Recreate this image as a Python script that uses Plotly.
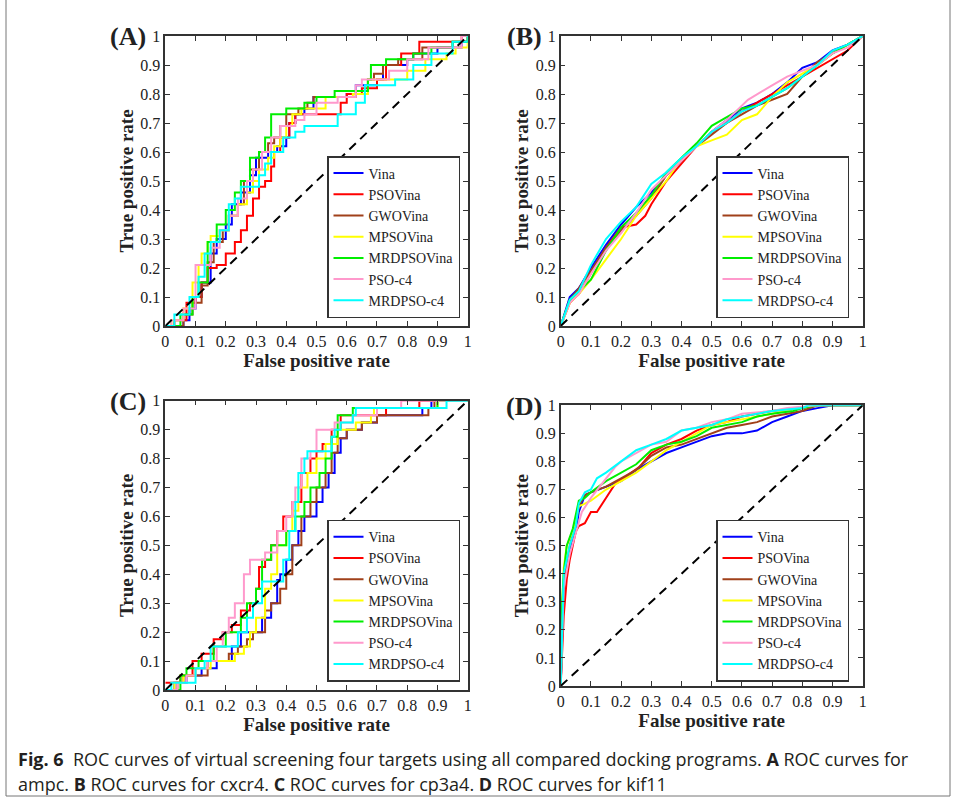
import plotly.graph_objects as go

W, H = 956, 803

methods = ['Vina', 'PSOVina', 'GWOVina', 'MPSOVina', 'MRDPSOVina', 'PSO-c4', 'MRDPSO-c4']
colors = ['#0000ff', '#ff0000', '#a0401a', '#ffff00', '#00ee00', '#ff99cc', '#00ffff']
ticks = [0, 0.1, 0.2, 0.3, 0.4, 0.5, 0.6, 0.7, 0.8, 0.9, 1]
tick_text = ['0', '0.1', '0.2', '0.3', '0.4', '0.5', '0.6', '0.7', '0.8', '0.9', '1']

# ---- (A) ampc : (fpr, tpr) pairs
ampc_vina = [(0, 0), (0.05, 0), (0.06, 0.02), (0.08, 0.06), (0.1, 0.1), (0.12, 0.15), (0.15, 0.25), (0.17, 0.3),
             (0.2, 0.35), (0.22, 0.42), (0.25, 0.46), (0.28, 0.52), (0.3, 0.58), (0.34, 0.6), (0.37, 0.62),
             (0.4, 0.65), (0.41, 0.7), (0.43, 0.73), (0.46, 0.75), (0.49, 0.79), (0.55, 0.79), (0.6, 0.8),
             (0.63, 0.83), (0.7, 0.85), (0.72, 0.9), (0.8, 0.92), (0.82, 0.94), (0.9, 0.96), (0.98, 0.98), (1, 1)]
ampc_psovina = [(0, 0), (0.03, 0.02), (0.07, 0.08), (0.1, 0.1), (0.12, 0.15), (0.14, 0.2), (0.17, 0.21),
                (0.2, 0.25), (0.23, 0.29), (0.25, 0.33), (0.27, 0.38), (0.29, 0.44), (0.31, 0.48), (0.33, 0.5),
                (0.35, 0.55), (0.36, 0.6), (0.38, 0.65), (0.41, 0.7), (0.43, 0.73), (0.56, 0.73), (0.58, 0.77),
                (0.6, 0.8), (0.65, 0.82), (0.7, 0.85), (0.73, 0.9), (0.78, 0.94), (0.84, 0.98), (0.98, 1), (1, 1)]
ampc_gwovina = [(0, 0), (0.04, 0), (0.06, 0.04), (0.09, 0.08), (0.12, 0.14), (0.14, 0.22), (0.16, 0.29),
                (0.19, 0.33), (0.21, 0.38), (0.24, 0.42), (0.26, 0.5), (0.28, 0.54), (0.31, 0.6), (0.34, 0.63),
                (0.36, 0.65), (0.38, 0.69), (0.4, 0.73), (0.44, 0.75), (0.47, 0.77), (0.49, 0.79), (0.54, 0.79),
                (0.61, 0.79), (0.63, 0.81), (0.67, 0.85), (0.69, 0.87), (0.72, 0.9), (0.77, 0.92), (0.85, 0.96),
                (0.95, 0.98), (1, 1)]
ampc_mpsovina = [(0, 0), (0.02, 0.02), (0.06, 0.06), (0.09, 0.15), (0.11, 0.21), (0.12, 0.25), (0.14, 0.29),
                 (0.15, 0.31), (0.18, 0.33), (0.21, 0.38), (0.24, 0.42), (0.27, 0.46), (0.29, 0.5), (0.31, 0.54),
                 (0.34, 0.58), (0.36, 0.62), (0.38, 0.65), (0.4, 0.69), (0.42, 0.73), (0.45, 0.75), (0.5, 0.75),
                 (0.53, 0.79), (0.62, 0.8), (0.67, 0.85), (0.77, 0.85), (0.8, 0.88), (0.86, 0.92), (0.93, 0.94),
                 (0.96, 0.96), (1, 1)]
ampc_mrdpsovina = [(0, 0), (0.03, 0), (0.05, 0.04), (0.09, 0.1), (0.11, 0.15), (0.14, 0.29), (0.17, 0.35),
                   (0.2, 0.4), (0.23, 0.46), (0.25, 0.5), (0.28, 0.58), (0.31, 0.6), (0.33, 0.65), (0.35, 0.73),
                   (0.4, 0.75), (0.46, 0.77), (0.5, 0.79), (0.56, 0.81), (0.67, 0.85), (0.68, 0.9), (0.73, 0.92),
                   (0.82, 0.94), (0.88, 0.96), (0.95, 0.98), (1, 1)]
ampc_psoc4 = [(0, 0), (0.02, 0.02), (0.06, 0.06), (0.1, 0.21), (0.13, 0.21), (0.15, 0.27), (0.18, 0.33),
              (0.21, 0.38), (0.24, 0.44), (0.27, 0.5), (0.29, 0.54), (0.32, 0.6), (0.35, 0.65), (0.38, 0.69),
              (0.43, 0.71), (0.46, 0.73), (0.5, 0.77), (0.57, 0.79), (0.63, 0.83), (0.65, 0.85), (0.7, 0.85),
              (0.74, 0.88), (0.8, 0.92), (0.87, 0.96), (0.92, 0.96), (0.98, 1), (1, 1)]
ampc_mrdpsoc4 = [(0, 0), (0.03, 0.04), (0.05, 0.04), (0.08, 0.1), (0.11, 0.17), (0.13, 0.25), (0.15, 0.29),
                 (0.18, 0.33), (0.21, 0.42), (0.23, 0.44), (0.25, 0.48), (0.29, 0.48), (0.31, 0.52), (0.33, 0.56),
                 (0.35, 0.6), (0.39, 0.65), (0.43, 0.67), (0.46, 0.69), (0.55, 0.69), (0.57, 0.73), (0.63, 0.77),
                 (0.66, 0.83), (0.76, 0.85), (0.82, 0.9), (0.88, 0.94), (0.95, 0.98), (1, 1)]

# ---- (B) cxcr4
cxcr4_vina = [(0, 0), (0.03, 0.1), (0.06, 0.13), (0.1, 0.2), (0.15, 0.28), (0.2, 0.35), (0.25, 0.41), (0.3, 0.46),
              (0.35, 0.52), (0.4, 0.57), (0.45, 0.62), (0.5, 0.67), (0.55, 0.71), (0.6, 0.75), (0.65, 0.77),
              (0.7, 0.8), (0.75, 0.84), (0.8, 0.89), (0.85, 0.91), (0.9, 0.95), (0.95, 0.97), (1, 1)]
cxcr4_psovina = [(0, 0), (0.03, 0.08), (0.06, 0.11), (0.1, 0.18), (0.15, 0.27), (0.2, 0.34), (0.25, 0.35),
                 (0.28, 0.38), (0.3, 0.42), (0.35, 0.5), (0.4, 0.56), (0.45, 0.62), (0.5, 0.67), (0.55, 0.7),
                 (0.6, 0.74), (0.65, 0.77), (0.7, 0.8), (0.75, 0.83), (0.8, 0.86), (0.85, 0.89), (0.9, 0.92),
                 (0.95, 0.95), (1, 1)]
cxcr4_gwovina = [(0, 0), (0.03, 0.09), (0.06, 0.13), (0.1, 0.19), (0.15, 0.27), (0.2, 0.33), (0.25, 0.38),
                 (0.3, 0.44), (0.35, 0.52), (0.4, 0.57), (0.45, 0.62), (0.5, 0.66), (0.55, 0.7), (0.6, 0.73),
                 (0.65, 0.76), (0.7, 0.78), (0.75, 0.8), (0.8, 0.86), (0.85, 0.91), (0.9, 0.94), (0.95, 0.97), (1, 1)]
cxcr4_mpsovina = [(0, 0), (0.03, 0.08), (0.06, 0.11), (0.1, 0.16), (0.15, 0.23), (0.2, 0.3), (0.25, 0.38),
                  (0.3, 0.44), (0.35, 0.5), (0.4, 0.58), (0.45, 0.62), (0.5, 0.64), (0.55, 0.66), (0.6, 0.71),
                  (0.65, 0.73), (0.7, 0.79), (0.75, 0.84), (0.8, 0.87), (0.85, 0.9), (0.9, 0.94), (0.95, 0.97), (1, 1)]
cxcr4_mrdpsovina = [(0, 0), (0.03, 0.09), (0.06, 0.12), (0.1, 0.16), (0.15, 0.26), (0.2, 0.34), (0.25, 0.39),
                    (0.3, 0.45), (0.35, 0.53), (0.4, 0.58), (0.45, 0.63), (0.5, 0.69), (0.55, 0.72), (0.6, 0.75),
                    (0.65, 0.76), (0.7, 0.79), (0.75, 0.82), (0.8, 0.86), (0.85, 0.9), (0.9, 0.94), (0.95, 0.97),
                    (1, 1)]
cxcr4_psoc4 = [(0, 0), (0.03, 0.08), (0.06, 0.11), (0.1, 0.18), (0.15, 0.26), (0.2, 0.32), (0.25, 0.39),
               (0.3, 0.47), (0.35, 0.52), (0.4, 0.57), (0.45, 0.62), (0.5, 0.67), (0.55, 0.71), (0.62, 0.78),
               (0.7, 0.83), (0.75, 0.86), (0.8, 0.88), (0.85, 0.9), (0.9, 0.94), (0.95, 0.96), (1, 1)]
cxcr4_mrdpsoc4 = [(0, 0), (0.03, 0.09), (0.06, 0.12), (0.1, 0.21), (0.15, 0.3), (0.2, 0.36), (0.25, 0.41),
                  (0.3, 0.49), (0.35, 0.53), (0.4, 0.58), (0.45, 0.62), (0.5, 0.67), (0.55, 0.7), (0.6, 0.74),
                  (0.65, 0.76), (0.7, 0.79), (0.75, 0.82), (0.8, 0.86), (0.85, 0.9), (0.9, 0.95), (0.95, 0.97), (1, 1)]

# ---- (C) cp3a4
cp3a4_vina = [(0, 0), (0.03, 0), (0.03, 0.025), (0.07, 0.05), (0.12, 0.075), (0.17, 0.1), (0.22, 0.15),
              (0.25, 0.2), (0.3, 0.2), (0.32, 0.25), (0.35, 0.3), (0.37, 0.38), (0.38, 0.4), (0.4, 0.45),
              (0.42, 0.5), (0.44, 0.55), (0.46, 0.6), (0.5, 0.65), (0.52, 0.7), (0.54, 0.75), (0.56, 0.82),
              (0.58, 0.87), (0.6, 0.9), (0.65, 0.925), (0.7, 0.95), (0.85, 0.975), (0.88, 1), (1, 1)]
cp3a4_psovina = [(0, 0.025), (0.02, 0.025), (0.05, 0.05), (0.09, 0.1), (0.12, 0.125), (0.16, 0.175),
                 (0.19, 0.2), (0.22, 0.225), (0.25, 0.275), (0.28, 0.3), (0.3, 0.35), (0.31, 0.425), (0.33, 0.45),
                 (0.35, 0.5), (0.37, 0.55), (0.39, 0.6), (0.42, 0.65), (0.45, 0.75), (0.48, 0.8), (0.5, 0.825),
                 (0.52, 0.85), (0.55, 0.9), (0.58, 0.95), (0.73, 0.975), (0.84, 1), (1, 1)]
cp3a4_gwovina = [(0, 0), (0.04, 0.025), (0.06, 0.05), (0.12, 0.05), (0.14, 0.1), (0.21, 0.125), (0.24, 0.15),
                 (0.27, 0.175), (0.29, 0.2), (0.33, 0.275), (0.35, 0.3), (0.38, 0.35), (0.4, 0.4), (0.42, 0.5),
                 (0.45, 0.6), (0.48, 0.65), (0.5, 0.7), (0.53, 0.75), (0.55, 0.82), (0.57, 0.87), (0.6, 0.9),
                 (0.65, 0.925), (0.7, 0.95), (0.87, 0.975), (0.89, 1), (1, 1)]
cp3a4_mpsovina = [(0, 0), (0.03, 0.025), (0.06, 0.05), (0.1, 0.075), (0.15, 0.1), (0.23, 0.125), (0.26, 0.15),
                  (0.28, 0.2), (0.3, 0.25), (0.33, 0.35), (0.35, 0.4), (0.37, 0.5), (0.4, 0.55), (0.42, 0.62),
                  (0.44, 0.7), (0.47, 0.75), (0.5, 0.8), (0.53, 0.85), (0.57, 0.9), (0.63, 0.925), (0.68, 0.95),
                  (0.69, 0.975), (0.88, 0.975), (0.9, 1), (1, 1)]
cp3a4_mrdpsovina = [(0, 0), (0.05, 0.05), (0.07, 0.075), (0.11, 0.1), (0.16, 0.15), (0.2, 0.2), (0.25, 0.25),
                    (0.27, 0.3), (0.3, 0.35), (0.32, 0.45), (0.35, 0.5), (0.38, 0.5), (0.4, 0.55), (0.43, 0.6),
                    (0.46, 0.65), (0.48, 0.7), (0.51, 0.75), (0.53, 0.8), (0.55, 0.875), (0.57, 0.95),
                    (0.62, 0.975), (0.9, 1), (1, 1)]
cp3a4_psoc4 = [(0, 0), (0.04, 0.025), (0.07, 0.05), (0.1, 0.075), (0.14, 0.1), (0.17, 0.15), (0.19, 0.2),
               (0.21, 0.25), (0.23, 0.3), (0.26, 0.4), (0.28, 0.45), (0.33, 0.475), (0.37, 0.55), (0.4, 0.6),
               (0.42, 0.65), (0.43, 0.7), (0.45, 0.8), (0.48, 0.825), (0.5, 0.9), (0.56, 0.925), (0.62, 0.95),
               (0.7, 0.975), (0.78, 1), (1, 1)]
cp3a4_mrdpsoc4 = [(0, 0), (0.02, 0.025), (0.08, 0.025), (0.1, 0.075), (0.13, 0.1), (0.15, 0.15), (0.2, 0.15),
                  (0.24, 0.2), (0.27, 0.25), (0.29, 0.3), (0.32, 0.375), (0.37, 0.375), (0.39, 0.45), (0.41, 0.55),
                  (0.43, 0.65), (0.44, 0.75), (0.46, 0.8), (0.47, 0.825), (0.53, 0.825), (0.55, 0.875),
                  (0.56, 0.9), (0.58, 0.925), (0.62, 0.95), (0.63, 0.975), (0.93, 0.975), (0.93, 1), (1, 1)]

# ---- (D) kif11
kif11_vina = [(0, 0), (0.005, 0.15), (0.01, 0.35), (0.02, 0.45), (0.04, 0.52), (0.05, 0.55), (0.06, 0.62),
              (0.08, 0.68), (0.1, 0.69), (0.15, 0.71), (0.2, 0.73), (0.25, 0.77), (0.3, 0.8), (0.35, 0.83),
              (0.4, 0.85), (0.45, 0.87), (0.5, 0.89), (0.55, 0.9), (0.6, 0.9), (0.65, 0.91), (0.7, 0.94),
              (0.75, 0.96), (0.8, 0.98), (0.85, 0.99), (0.9, 1), (1, 1)]
kif11_psovina = [(0, 0), (0.005, 0.12), (0.01, 0.25), (0.02, 0.38), (0.03, 0.45), (0.04, 0.5), (0.05, 0.55),
                 (0.06, 0.57), (0.08, 0.58), (0.1, 0.62), (0.12, 0.62), (0.15, 0.67), (0.18, 0.72), (0.22, 0.75),
                 (0.26, 0.78), (0.3, 0.83), (0.35, 0.86), (0.4, 0.88), (0.45, 0.91), (0.5, 0.93), (0.55, 0.94),
                 (0.6, 0.96), (0.7, 0.98), (0.8, 0.99), (0.85, 1), (1, 1)]
kif11_gwovina = [(0, 0), (0.005, 0.2), (0.01, 0.38), (0.03, 0.5), (0.05, 0.58), (0.06, 0.64), (0.08, 0.68),
                 (0.1, 0.69), (0.15, 0.71), (0.2, 0.74), (0.25, 0.77), (0.3, 0.82), (0.35, 0.85), (0.4, 0.86),
                 (0.45, 0.88), (0.5, 0.9), (0.55, 0.92), (0.6, 0.93), (0.65, 0.94), (0.7, 0.96), (0.8, 0.98),
                 (0.85, 1), (1, 1)]
kif11_mpsovina = [(0, 0), (0.005, 0.3), (0.01, 0.42), (0.02, 0.5), (0.04, 0.55), (0.06, 0.64), (0.08, 0.65),
                  (0.1, 0.66), (0.15, 0.7), (0.2, 0.73), (0.25, 0.76), (0.3, 0.8), (0.35, 0.84), (0.4, 0.87),
                  (0.45, 0.9), (0.5, 0.93), (0.55, 0.94), (0.6, 0.95), (0.7, 0.97), (0.78, 0.99), (0.85, 1), (1, 1)]
kif11_mrdpsovina = [(0, 0), (0.005, 0.3), (0.01, 0.4), (0.02, 0.5), (0.04, 0.56), (0.06, 0.66), (0.08, 0.67),
                    (0.1, 0.69), (0.15, 0.73), (0.2, 0.76), (0.25, 0.79), (0.3, 0.84), (0.35, 0.86), (0.4, 0.87),
                    (0.45, 0.89), (0.5, 0.92), (0.55, 0.93), (0.6, 0.94), (0.65, 0.96), (0.7, 0.97), (0.77, 0.98),
                    (0.8, 0.99), (0.85, 1), (1, 1)]
kif11_psoc4 = [(0, 0), (0.005, 0.2), (0.01, 0.35), (0.03, 0.47), (0.05, 0.55), (0.07, 0.62), (0.1, 0.67),
               (0.15, 0.74), (0.18, 0.78), (0.2, 0.8), (0.25, 0.83), (0.3, 0.86), (0.35, 0.87), (0.4, 0.91),
               (0.45, 0.92), (0.5, 0.94), (0.55, 0.95), (0.6, 0.97), (0.7, 0.98), (0.75, 0.99), (0.85, 1), (1, 1)]
kif11_mrdpsoc4 = [(0, 0), (0.005, 0.25), (0.01, 0.4), (0.03, 0.5), (0.05, 0.57), (0.06, 0.65), (0.08, 0.69),
                  (0.1, 0.7), (0.12, 0.74), (0.15, 0.76), (0.2, 0.8), (0.25, 0.84), (0.3, 0.86), (0.35, 0.88),
                  (0.4, 0.91), (0.45, 0.92), (0.5, 0.93), (0.55, 0.95), (0.6, 0.96), (0.7, 0.98), (0.8, 0.99),
                  (0.82, 1), (1, 1)]

panels = [
    ('(A)', [ampc_vina, ampc_psovina, ampc_gwovina, ampc_mpsovina, ampc_mrdpsovina, ampc_psoc4, ampc_mrdpsoc4], 'hv'),
    ('(B)', [cxcr4_vina, cxcr4_psovina, cxcr4_gwovina, cxcr4_mpsovina, cxcr4_mrdpsovina, cxcr4_psoc4,
             cxcr4_mrdpsoc4], 'linear'),
    ('(C)', [cp3a4_vina, cp3a4_psovina, cp3a4_gwovina, cp3a4_mpsovina, cp3a4_mrdpsovina, cp3a4_psoc4,
             cp3a4_mrdpsoc4], 'hv'),
    ('(D)', [kif11_vina, kif11_psovina, kif11_gwovina, kif11_mpsovina, kif11_mrdpsovina, kif11_psoc4,
             kif11_mrdpsoc4], 'linear'),
]

# pixel boxes of the four axes: left, right, top, bottom
boxes = [(165.3, 467.7, 36, 326), (560.7, 862.7, 36, 326), (165.3, 467.7, 400.7, 690), (560.7, 862.7, 405.3, 686)]
# legend right / bottom in pixels
leg_pos = [(460, 318), (849, 318), (460, 681.7), (849, 681.7)]

SERIF = 'Liberation Serif, Times New Roman, serif'
INK = '#222222'

fig = go.Figure()
layout = dict()
annotations = []

for i, (label, curves, shape) in enumerate(panels):
    n = '' if i == 0 else str(i + 1)
    leg = 'legend' if i == 0 else 'legend' + str(i + 1)
    for name, col, pts in zip(methods, colors, curves):
        fig.add_trace(go.Scatter(
            x=[p[0] for p in pts], y=[p[1] for p in pts], mode='lines', name=name,
            line=dict(color=col, width=2, shape=shape),
            xaxis='x' + n, yaxis='y' + n, legend=leg))
    fig.add_trace(go.Scatter(x=[0, 1], y=[0, 1], mode='lines', showlegend=False,
                             line=dict(color='black', width=2, dash='9px,6px'),
                             xaxis='x' + n, yaxis='y' + n))

    l, r, t, b = boxes[i]
    common = dict(range=[0, 1], tickvals=ticks, ticktext=tick_text, showgrid=False, zeroline=False,
                  automargin=False, showline=True, linecolor='#333333', linewidth=1.5, mirror='ticks',
                  ticks='inside', ticklen=5, tickcolor='#333333',
                  tickfont=dict(family=SERIF, size=16, color=INK))
    layout['xaxis' + n] = dict(common, domain=[l / W, r / W], anchor='y' + n,
                               title=dict(text='<b>False positive rate</b>', standoff=2,
                                          font=dict(family=SERIF, size=19, color=INK)))
    layout['yaxis' + n] = dict(common, domain=[1 - b / H, 1 - t / H], anchor='x' + n,
                               title=dict(text='<b>True positive rate</b>', standoff=2,
                                          font=dict(family=SERIF, size=19, color=INK)))
    lx, ly = leg_pos[i]
    layout[leg] = dict(x=lx / W, y=1 - ly / H, xanchor='right', yanchor='bottom',
                       bgcolor='white', bordercolor='#333333', borderwidth=1.5,
                       font=dict(family=SERIF, size=14, color=INK),
                       itemwidth=30, tracegroupgap=0)
    annotations.append(dict(text='<b>' + label + '</b>', x=(l - 17) / W, y=1 - (t + 1) / H,
                            xref='paper', yref='paper', xanchor='right', yanchor='middle', showarrow=False,
                            font=dict(family=SERIF, size=26, color=INK)))

CAP = 'Open Sans, Noto Sans, sans-serif'
annotations.append(dict(
    text='<b>Fig. 6</b>  ROC curves of virtual screening four targets using all compared docking programs. '
         '<b>A</b> ROC curves for',
    x=16 / W, y=1 - 759 / H, xref='paper', yref='paper', xanchor='left', yanchor='middle', showarrow=False,
    font=dict(family=CAP, size=18, color='#231f20')))
annotations.append(dict(
    text='ampc. <b>B</b> ROC curves for cxcr4. <b>C</b> ROC curves for cp3a4. <b>D</b> ROC curves for kif11',
    x=16 / W, y=1 - 784 / H, xref='paper', yref='paper', xanchor='left', yanchor='middle', showarrow=False,
    font=dict(family=CAP, size=18, color='#231f20')))

fig.update_layout(
    template='none',
    width=W, height=H, margin=dict(l=0, r=0, t=0, b=0, autoexpand=False),
    paper_bgcolor='white', plot_bgcolor='white',
    annotations=annotations,
    shapes=[dict(type='rect', xref='paper', yref='paper', x0=6 / W, x1=950 / W, y0=1 - 796 / H, y1=1.02,
                 line=dict(color='#777777', width=1))],
    **layout)

fig.write_html('out.html', post_script="document.body.style.margin='0';",
               config={'displayModeBar': False})
